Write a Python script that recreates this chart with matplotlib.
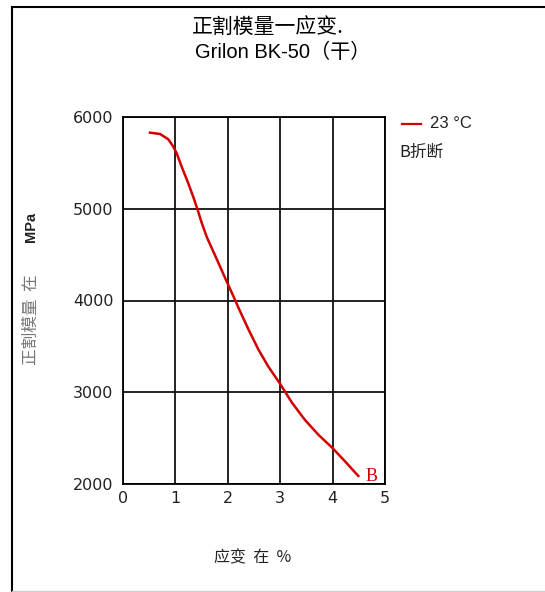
import matplotlib
matplotlib.use("Agg")
import matplotlib.pyplot as plt
from matplotlib.lines import Line2D

plt.rcParams['font.family'] = ['DejaVu Sans', 'Noto Sans CJK SC']
CJK = ['Noto Sans CJK SC', 'DejaVu Sans']

# strain (%) vs secant modulus (MPa)
strain = [0.515, 0.706, 0.865, 0.96, 1.025, 1.12, 1.246, 1.34, 1.418, 1.50,
          1.60, 1.79, 1.98, 2.14, 2.20, 2.39, 2.58, 2.77, 3.0, 3.22,
          3.47, 3.73, 4.0, 4.24, 4.49]
modulus = [5829, 5815, 5757, 5676, 5604, 5458, 5277, 5130, 5000, 4850,
           4690, 4450, 4205, 4005, 3925, 3690, 3470, 3283, 3090, 2890,
           2700, 2536, 2391, 2245, 2088]
x_ticks = [0, 1, 2, 3, 4, 5]
y_ticks = [2000, 3000, 4000, 5000, 6000]

fig = plt.figure(figsize=(5.45, 5.92), dpi=100)
W, H = 545, 592
ax = fig.add_axes([123 / W, 1 - 484 / H, (385 - 123) / W, (484 - 117) / H])

ax.plot(strain, modulus, color='#d40000', linewidth=1.8)
ax.set_xlim(0, 5)
ax.set_ylim(2000, 6000)
ax.set_xticks(x_ticks)
ax.set_yticks(y_ticks)
ax.grid(True, color='#111111', linewidth=1.3)
for s in ax.spines.values():
    s.set_linewidth(1.3)
ax.tick_params(length=0, labelsize=11.5, colors='#222222')
ax.tick_params(axis='y', pad=7)
ax.tick_params(axis='x', pad=5)
ax.text(4.62, 2080, 'B', color='#d40000', fontsize=13, family='Liberation Serif',
        va='center', ha='left')

# title
fig.text(268 / W, 1 - 27 / H, '正割模量一应变.', ha='center', va='center', fontsize=15,
         family=CJK)
fig.text(283 / W, 1 - 52 / H, 'Grilon BK-50（干）', ha='center', va='center', fontsize=14.5,
         family=['Liberation Sans', 'Noto Sans CJK SC'])

# axis labels
fig.text(253 / W, 1 - 558 / H, '应变  在  %', ha='center', va='center', fontsize=11.5,
         family=CJK, color='#222222')
fig.text(31 / W, 1 - 320 / H, '正割模量  在', ha='center', va='center', rotation=90,
         fontsize=12, color='#777777', family=CJK)
fig.text(31 / W, 1 - 227 / H, 'MPa', ha='center', va='center', rotation=90,
         fontsize=10.5, fontweight='bold', color='#222222', family='Liberation Sans')

# legend
fig.add_artist(Line2D([402 / W, 421 / W], [1 - 124 / H, 1 - 124 / H], color='#d40000', linewidth=1.6))
fig.text(430 / W, 1 - 124 / H, '23 °C', ha='left', va='center', fontsize=12,
         family='Liberation Sans', color='#222222')
fig.text(399 / W, 1 - 152 / H, 'B折断', ha='left', va='center', fontsize=12,
         family=CJK, color='#222222')

# frame around the figure
fig.add_artist(Line2D([11.5 / W, 11.5 / W], [0, 1 - 6.5 / H], color='black', linewidth=1.5))
fig.add_artist(Line2D([11.5 / W, 1], [1 - 6.5 / H, 1 - 6.5 / H], color='black', linewidth=1.5))
fig.add_artist(Line2D([11.5 / W, 1], [1 - 590.5 / H, 1 - 590.5 / H], color='#cccccc', linewidth=1))

fig.savefig('out.png', dpi=100)
